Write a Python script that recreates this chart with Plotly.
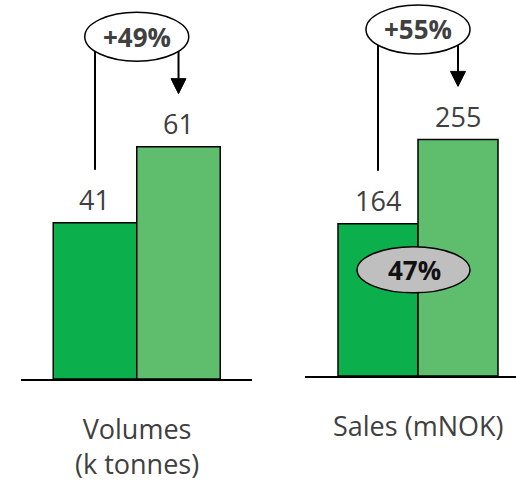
import plotly.graph_objects as go

# Two KPI panels, each comparing a before/after pair
categories = ["Volumes<br>(k tonnes)", "Sales (mNOK)"]
before = [41, 164]
after = [61, 255]
share_label = "47%"

bar_colors = ["#0BB04C", "#5FBE6E"]
text_grey = "#404040"
font_family = "Open Sans"

growth_labels = [f"+{round((a / b - 1) * 100)}%" for a, b in zip(after, before)]

fig = go.Figure()

axes = [("x", "y"), ("x2", "y2")]
for i, (xa, ya) in enumerate(axes):
    fig.add_trace(go.Bar(
        x=[0, 1], y=[before[i], after[i]], width=1,
        marker=dict(color=bar_colors, line=dict(color="black", width=1.5)),
        xaxis=xa, yaxis=ya, showlegend=False, hoverinfo="skip",
    ))

shapes = []
annotations = []
for i, (xa, ya) in enumerate(axes):
    # connector rising from the first bar up into the growth bubble
    shapes.append(dict(type="line", xref=xa, yref=ya, x0=0, x1=0,
                       ysizemode="pixel", yanchor=before[i], y0=53, y1=185,
                       line=dict(color="black", width=2)))
    # arrow coming down onto the second bar
    shapes.append(dict(type="line", xref=xa, yref=ya, x0=1, x1=1,
                       ysizemode="pixel", yanchor=after[i], y0=66, y1=110,
                       line=dict(color="black", width=2)))
    shapes.append(dict(type="path", xref=xa, yref=ya,
                       xsizemode="pixel", xanchor=1,
                       ysizemode="pixel", yanchor=after[i],
                       path="M -7.5,68 L 7.5,68 L 0,53 Z",
                       fillcolor="black", line=dict(color="black", width=1)))
    # growth bubble
    shapes.append(dict(type="circle", xref=xa, yref=ya,
                       xsizemode="pixel", xanchor=0.5, x0=-52, x1=52,
                       ysizemode="pixel", yanchor=after[i], y0=85.5, y1=134.5,
                       fillcolor="white", line=dict(color="black", width=1.5)))
    annotations.append(dict(xref=xa, yref=ya, x=0.5, y=after[i], yshift=110,
                            text=f"<b>{growth_labels[i]}</b>", showarrow=False,
                            font=dict(family=font_family, size=26, color=text_grey)))
    # value labels
    for xv, v in zip([0, 1], [before[i], after[i]]):
        annotations.append(dict(xref=xa, yref=ya, x=xv, y=v, yshift=23,
                                text=str(v), showarrow=False,
                                font=dict(family=font_family, size=27, color=text_grey)))

# share bubble on the sales bars
shapes.append(dict(type="circle", xref="x2", yref="y2",
                   xsizemode="pixel", xanchor=0.5, x0=-61, x1=52,
                   ysizemode="pixel", yanchor=before[1], y0=-69, y1=-23,
                   fillcolor="#BFBFBF", line=dict(color="black", width=1.5)))
annotations.append(dict(xref="x2", yref="y2", x=0.5, xshift=-4, y=before[1], yshift=-46,
                        text=f"<b>{share_label}</b>", showarrow=False,
                        font=dict(family=font_family, size=26, color="#111111")))

# category captions below each baseline
for i, (xa, ya) in enumerate(axes):
    annotations.append(dict(xref=xa, yref=f"{ya} domain", x=0.5, y=0,
                            yanchor="middle",
                            yshift=-67 if "<br>" in categories[i] else -49,
                            text=categories[i], showarrow=False,
                            font=dict(family=font_family, size=27, color=text_grey)))

axis_common = dict(showgrid=False, zeroline=False, showticklabels=False, ticks="")
fig.update_layout(
    width=516, height=482, autosize=False,
    margin=dict(l=0, r=0, t=0, b=103),
    paper_bgcolor="white", plot_bgcolor="rgba(0,0,0,0)",
    xaxis=dict(domain=[21 / 516, 252 / 516], range=[-0.886, 1.88], anchor="y",
               showline=True, linecolor="black", linewidth=1.5, **axis_common),
    yaxis=dict(domain=[0, 1], range=[0, 99.5], anchor="x", visible=False),
    xaxis2=dict(domain=[305 / 516, 1], range=[-0.9125, 1.725], anchor="y2",
                showline=True, linecolor="black", linewidth=1.5, **axis_common),
    yaxis2=dict(domain=[3 / 379, 1], range=[0, 405.2], anchor="x2", visible=False),
    shapes=shapes, annotations=annotations,
)

fig.write_html("out.html")
